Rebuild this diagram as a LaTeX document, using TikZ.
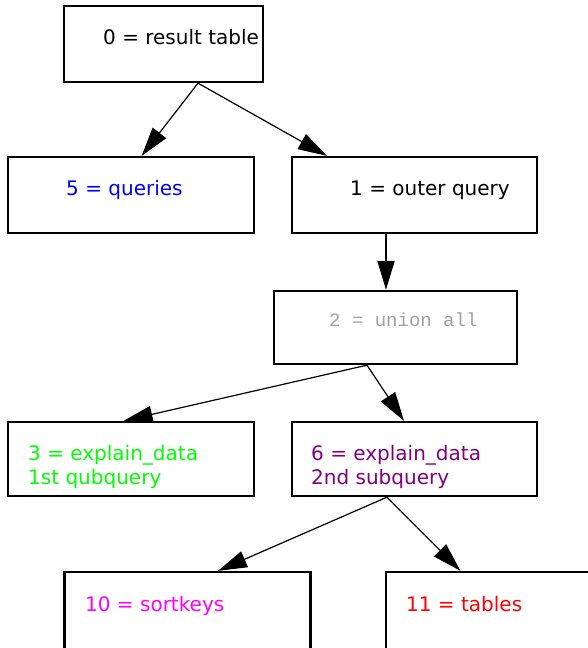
\documentclass[tikz,border=0pt]{standalone}
\usepackage{fontspec}
\setmainfont{DejaVu Sans}
\newfontfamily\plantt{Liberation Mono}
\usetikzlibrary{arrows.meta}

\def\mytreefont{\fontsize{20}{24}\selectfont}
\definecolor{mygray}{RGB}{160,160,160}
\definecolor{mypurple}{RGB}{128,0,128}
\definecolor{mygreen}{RGB}{0,255,0}
\definecolor{mymagenta}{RGB}{255,0,255}
\definecolor{myblue}{RGB}{0,0,255}
\definecolor{myred}{RGB}{255,0,0}

\begin{document}
\begin{tikzpicture}[x = 1pt, y = -1pt,
  planbox/.style = {draw, line width = 2.3pt, inner sep = 0pt, minimum height = 76pt, minimum width = 246pt},
  plantext/.style = {anchor = base west, inner sep = 0pt, font = \mytreefont, align = left},
  planarrow/.style = {-{Triangle[length = 29pt, width = 17pt]}, line width = 1.2pt}]
\useasboundingbox (0,0) rectangle (587,648);

% the boxes
\node [planbox, minimum width = 199pt] (b0) at (163.5,44) {};
\node [planbox] (b5) at (131,195) {};
\node [planbox, minimum width = 245pt] (b1) at (414.5,195) {};
\node [planbox, minimum width = 243pt, minimum height = 73pt] (b2) at (395.5,327.5) {};
\node [planbox, minimum height = 74pt] (b3) at (131,459) {};
\node [planbox, minimum width = 245pt, minimum height = 74pt] (b6) at (414.5,459) {};
\node [planbox, minimum height = 80pt] (b10) at (187.5,612) {};
\node [planbox, minimum height = 80pt] (b11) at (509,612) {};

% the texts (two-line ones sit on their last baseline)
\node [plantext] (t0) at (103,44) {0 = result table};
\node [plantext, myblue] (t5) at (66,195) {5 = queries};
\node [plantext] (t1) at (350,195) {1 = outer query};
\node [plantext, mygray, font = \plantt\fontsize{19}{24}\selectfont] (t2) at (329,326.5) {2 = union all};
\node [plantext, mygreen] (t3) at (28,484) {3 = explain\_data\\1st qubquery};
\node [plantext, mypurple] (t6) at (311,484) {6 = explain\_data\\2nd subquery};
\node [plantext, mymagenta] (t10) at (85,611) {10 = sortkeys};
\node [plantext, myred] (t11) at (406,611) {11 = tables};

% the arrows
\draw [planarrow] ([xshift = 34.5pt]b0.south) -- ([xshift = 10.7pt]b5.north); %b0 to b5
\draw [planarrow] ([xshift = 34.5pt]b0.south) -- ([xshift = -87.5pt]b1.north); %b0 to b1
\draw [planarrow, line width = 2pt] ([xshift = -28.5pt]b1.south) -- ([xshift = -9.5pt]b2.north); %b1 to b2
\draw [planarrow] ([xshift = -28.5pt]b2.south) -- ([xshift = -7.4pt]b3.north); %b2 to b3
\draw [planarrow] ([xshift = -28.5pt]b2.south) -- ([xshift = -10.5pt]b6.north); %b2 to b6
\draw [planarrow] ([xshift = -27.5pt]b6.south) -- ([xshift = 30.5pt]b10.north); %b6 to b10
\draw [planarrow] ([xshift = -27.5pt]b6.south) -- ([xshift = -48.5pt]b11.north); %b6 to b11
\end{tikzpicture}
\end{document}
